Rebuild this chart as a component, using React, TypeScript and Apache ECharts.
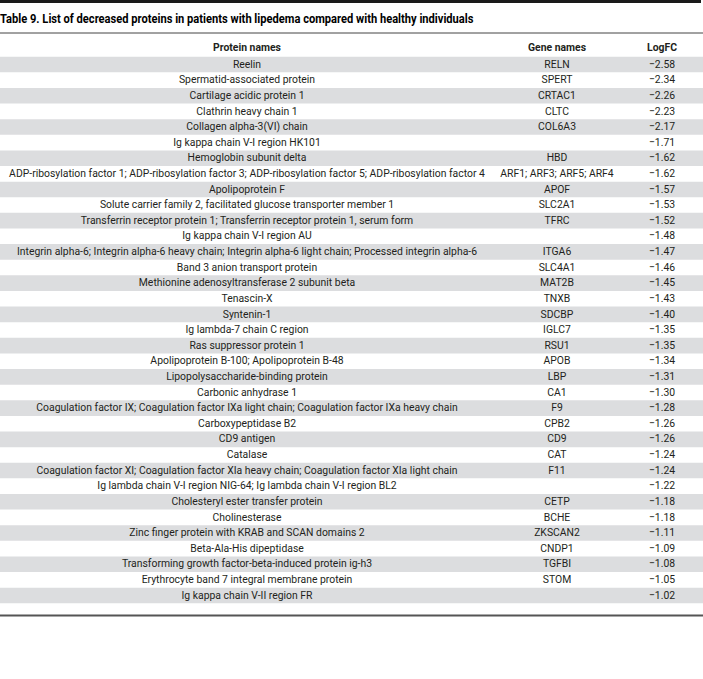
import React, { useEffect, useRef } from "react";
import * as echarts from "echarts";

const titleText =
  "Table 9. List of decreased proteins in patients with lipedema compared with healthy individuals";
const headers = ["Protein names", "Gene names", "LogFC"];

const proteinNames = [
  "Reelin",
  "Spermatid-associated protein",
  "Cartilage acidic protein 1",
  "Clathrin heavy chain 1",
  "Collagen alpha-3(VI) chain",
  "Ig kappa chain V-I region HK101",
  "Hemoglobin subunit delta",
  "ADP-ribosylation factor 1; ADP-ribosylation factor 3; ADP-ribosylation factor 5; ADP-ribosylation factor 4",
  "Apolipoprotein F",
  "Solute carrier family 2, facilitated glucose transporter member 1",
  "Transferrin receptor protein 1; Transferrin receptor protein 1, serum form",
  "Ig kappa chain V-I region AU",
  "Integrin alpha-6; Integrin alpha-6 heavy chain; Integrin alpha-6 light chain; Processed integrin alpha-6",
  "Band 3 anion transport protein",
  "Methionine adenosyltransferase 2 subunit beta",
  "Tenascin-X",
  "Syntenin-1",
  "Ig lambda-7 chain C region",
  "Ras suppressor protein 1",
  "Apolipoprotein B-100; Apolipoprotein B-48",
  "Lipopolysaccharide-binding protein",
  "Carbonic anhydrase 1",
  "Coagulation factor IX; Coagulation factor IXa light chain; Coagulation factor IXa heavy chain",
  "Carboxypeptidase B2",
  "CD9 antigen",
  "Catalase",
  "Coagulation factor XI; Coagulation factor XIa heavy chain; Coagulation factor XIa light chain",
  "Ig lambda chain V-I region NIG-64; Ig lambda chain V-I region BL2",
  "Cholesteryl ester transfer protein",
  "Cholinesterase",
  "Zinc finger protein with KRAB and SCAN domains 2",
  "Beta-Ala-His dipeptidase",
  "Transforming growth factor-beta-induced protein ig-h3",
  "Erythrocyte band 7 integral membrane protein",
  "Ig kappa chain V-II region FR",
];

const geneNames = [
  "RELN",
  "SPERT",
  "CRTAC1",
  "CLTC",
  "COL6A3",
  "",
  "HBD",
  "ARF1; ARF3; ARF5; ARF4",
  "APOF",
  "SLC2A1",
  "TFRC",
  "",
  "ITGA6",
  "SLC4A1",
  "MAT2B",
  "TNXB",
  "SDCBP",
  "IGLC7",
  "RSU1",
  "APOB",
  "LBP",
  "CA1",
  "F9",
  "CPB2",
  "CD9",
  "CAT",
  "F11",
  "",
  "CETP",
  "BCHE",
  "ZKSCAN2",
  "CNDP1",
  "TGFBI",
  "STOM",
  "",
];

const logFC = [
  -2.58, -2.34, -2.26, -2.23, -2.17, -1.71, -1.62, -1.62, -1.57, -1.53, -1.52,
  -1.48, -1.47, -1.46, -1.45, -1.43, -1.4, -1.35, -1.35, -1.34, -1.31, -1.3,
  -1.28, -1.26, -1.26, -1.24, -1.24, -1.22, -1.18, -1.18, -1.11, -1.09, -1.08,
  -1.05, -1.02,
];

const W = 703;
const H = 679;
const FONT = "Roboto, 'Noto Sans', sans-serif";
const FS = 11.5;
const SX = 0.905;
const TEXT_COLOR = "#231f20";
const STRIPE = "#dcdddf";
const COL_X = [247, 557, 662];

function fmt(v: number): string {
  return (v < 0 ? "\u2212" : "") + Math.abs(v).toFixed(2);
}

export default function App() {
  const ref = useRef<HTMLDivElement>(null);
  useEffect(() => {
    if (!ref.current) return;
    const chart = echarts.init(ref.current, null, { renderer: "svg" });
    const rowIdx = proteinNames.map((_, i) => String(i));
    const option: any = {
      animation: false,
      backgroundColor: "#ffffff",
      grid: { left: 0, right: 0, top: 56.7, height: 546.6, containLabel: false },
      xAxis: { type: "value", min: 0, max: W, show: false },
      yAxis: {
        type: "category",
        data: rowIdx,
        inverse: true,
        show: false,
        boundaryGap: true,
      },
      graphic: [
        {
          type: "line",
          z: 100,
          shape: { x1: 0, y1: 1.5, x2: 701, y2: 1.5 },
          style: { stroke: "#1a1a1a", lineWidth: 3 },
        },
        {
          type: "text",
          x: 0,
          y: 19,
          scaleX: 0.89,
          style: {
            x: 0,
            y: 0,
            text: titleText,
            fontFamily: FONT,
            fontWeight: "bold",
            fontSize: 12.5,
            fill: "#000",
            align: "left",
            verticalAlign: "middle",
          },
        },
        {
          type: "line",
          shape: { x1: 0, y1: 33, x2: W, y2: 33 },
          style: { stroke: "#444", lineWidth: 1 },
        },
        ...headers.map((h, i) => ({
          type: "text",
          x: COL_X[i],
          y: 47,
          scaleX: SX,
          style: {
            x: 0,
            y: 0,
            text: h,
            fontFamily: FONT,
            fontWeight: "bold",
            fontSize: FS,
            fill: TEXT_COLOR,
            align: "center",
            verticalAlign: "middle",
          },
        })),
        {
          type: "line",
          shape: { x1: 0, y1: 615.5, x2: W, y2: 615.5 },
          style: { stroke: "#555", lineWidth: 2 },
        },
      ],
      series: [
        {
          type: "custom",
          data: proteinNames.map((_, i) => [0, i]),
          encode: { x: 0, y: 1 },
          renderItem: (params: any, api: any) => {
            const idx = api.value(1);
            const c0 = api.coord([0, idx]);
            const c1 = api.coord([W, idx]);
            const h = api.size([0, 1])[1];
            const cy = c0[1];
            const children: any[] = [];
            if (idx % 2 === 0) {
              children.push({
                type: "rect",
                shape: { x: c0[0], y: cy - h / 2, width: c1[0] - c0[0], height: h },
                style: { fill: STRIPE },
              });
            }
            const texts = [proteinNames[idx], geneNames[idx], fmt(logFC[idx])];
            texts.forEach((t, k) => {
              if (!t) return;
              const px = api.coord([COL_X[k], idx])[0];
              children.push({
                type: "text",
                x: px,
                y: cy - 0.5,
                scaleX: SX,
                style: {
                  x: 0,
                  y: 0,
                  text: t,
                  fontFamily: FONT,
                  fontSize: FS,
                  fill: TEXT_COLOR,
                  align: "center",
                  verticalAlign: "middle",
                },
              });
            });
            return { type: "group", children };
          },
        },
      ],
    };
    chart.setOption(option);
    return () => chart.dispose();
  }, []);
  return (
    <div
      ref={ref}
      style={{ position: "absolute", left: 0, top: 0, width: W, height: H }}
    />
  );
}
